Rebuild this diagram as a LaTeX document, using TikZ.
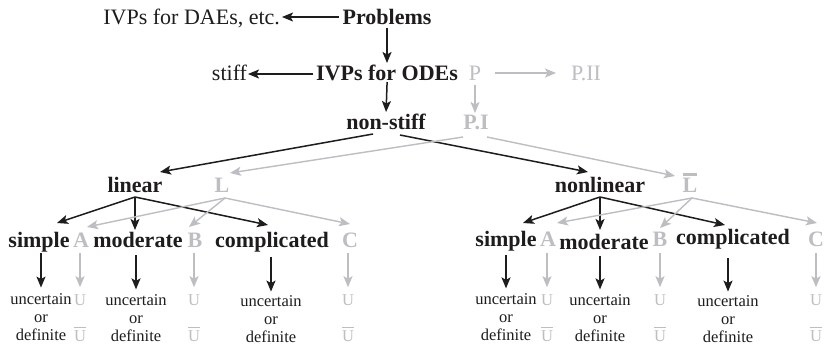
\documentclass[tikz,border=0pt]{standalone}
\usepackage{fontspec}
\setmainfont{Liberation Serif}
\usetikzlibrary{arrows.meta,calc}
\definecolor{gr}{RGB}{188,190,194}
\definecolor{ink}{RGB}{30,28,28}
\newcommand\ovbar[3]{\leavevmode\vbox{\hrule height #1\kern#2\hbox{#3}}}
\begin{document}
\begin{tikzpicture}[x=1pt,y=-1pt,
  every node/.style={inner sep=0pt, outer sep=0pt, text=ink},
  big/.style={font=\fontsize{22}{26}\selectfont, text height=15pt, text depth=5pt, anchor=base},
  bigb/.style={big, font=\fontsize{22}{26}\selectfont\bfseries},
  gbig/.style={big, text=gr},
  gbigb/.style={bigb, text=gr},
  small/.style={font=\fontsize{16.5}{18}\selectfont, align=center, anchor=base},
  gsmall/.style={small, text=gr},
  blk/.style={draw=ink, line width=1.5pt, -{Stealth[length=11pt,width=9pt,inset=2.5pt]}},
  gry/.style={draw=gr, line width=1.4pt, -{Stealth[length=11pt,width=9pt,inset=2.5pt]}},
]
\useasboundingbox[fill=white] (0,0) rectangle (824,345);

% top
\node[bigb] (prob) at (387,25) {Problems};
\node[big, anchor=base east] (daes) at (280,25) {IVPs for DAEs, etc.};
\node[bigb] (ivp) at (387,80) {IVPs for ODEs};
\node[big, anchor=base east] (stiff) at (247,80) {stiff};
\node[gbig] (P) at (475,80) {P};
\node[gbig] (PII) at (586,80) {P.II};
\node[bigb] (nst) at (386,129) {non-stiff};
\node[gbigb] (PI) at (476,129) {P.I};
\node[bigb] (lin) at (135,192) {linear};
\node[gbigb] (L) at (222,192) {L};
\node[bigb] (nlin) at (600,192) {nonlinear};
\node[gbigb] (Lb) at (690,192) {\ovbar{2.5pt}{2pt}{L}};

% row 5 left
\node[bigb] (s1) at (39,247) {simple};
\node[gbigb] (a1) at (81,247) {A};
\node[bigb] (m1) at (138,247) {moderate};
\node[gbigb] (b1) at (195,247) {B};
\node[bigb] (c1) at (272,247) {complicated};
\node[gbigb] (cc1) at (350,247) {C};
% row 5 right
\node[bigb] (s2) at (506,246) {simple};
\node[gbigb] (a2) at (548,246) {A};
\node[bigb] (m2) at (604,249) {moderate};
\node[gbigb] (b2) at (660,246) {B};
\node[bigb] (c2) at (733,244) {complicated};
\node[gbigb] (cc2) at (816,246) {C};

% row 6 left (base anchor = baseline of last line)
\node[small] (u1) at (41,340) {uncertain\\or\\definite};
\node[gsmall] (g1) at (80,305) {U};
\node[gsmall] (gb1) at (80,341) {\ovbar{1.2pt}{2pt}{U}};
\node[small] (u2) at (136,341) {uncertain\\or\\definite};
\node[gsmall] (g2) at (194,305) {U};
\node[gsmall] (gb2) at (194,341) {\ovbar{1.2pt}{2pt}{U}};
\node[small] (u3) at (271,342) {uncertain\\or\\definite};
\node[gsmall] (g3) at (348,305) {U};
\node[gsmall] (gb3) at (348,341) {\ovbar{1.2pt}{2pt}{U}};
% row 6 right
\node[small] (u4) at (506,340) {uncertain\\or\\definite};
\node[gsmall] (g4) at (547,305) {U};
\node[gsmall] (gb4) at (547,341) {\ovbar{1.2pt}{2pt}{U}};
\node[small] (u5) at (600,341) {uncertain\\or\\definite};
\node[gsmall] (g5) at (660,305) {U};
\node[gsmall] (gb5) at (660,341) {\ovbar{1.2pt}{2pt}{U}};
\node[small] (u6) at (728,342) {uncertain\\or\\definite};
\node[gsmall] (g6) at (816,305) {U};
\node[gsmall] (gb6) at (816,341) {\ovbar{1.2pt}{2pt}{U}};

% top connectors
\draw[blk, shorten <=4pt, shorten >=2pt] ([yshift=3pt]prob.west) -- ([yshift=3pt]daes.east);
\draw[blk, shorten <=-2pt, shorten >=2pt] (prob.south) -- (ivp.north);
\draw[blk, shorten <=3pt, shorten >=1pt] ([yshift=1pt]ivp.west) -- ([yshift=1pt]stiff.east);
\draw[blk, shorten <=-3pt, shorten >=2pt] (ivp.south) -- (nst.north);
\draw[gry, shorten <=14pt, shorten >=15pt] ([yshift=2pt]P.east) -- ([yshift=2pt]PII.west);
\draw[gry, shorten >=1pt] (P.south) -- (P.south |- PI.north);

\draw[blk] ([shift={(-13,0)}]nst.south) -- ([shift={(25,-5)}]lin.north);
\draw[blk] ([shift={(14,1)}]nst.south) -- ([shift={(-12,-5)}]nlin.north);
\draw[gry] ([shift={(-13,3)}]PI.south) -- ([shift={(8,-4)}]L.north);
\draw[gry] ([shift={(11,3)}]PI.south) -- ([shift={(-15,-1)}]Lb.north);

% left fans
\draw[blk] (lin.south) -- ([shift={(18,-9)}]s1.north);
\draw[blk, shorten >=2pt] (lin.south) -- (lin.south |- m1.north);
\draw[blk] (lin.south) -- ([shift={(-4,-7)}]c1.north);
\draw[gry] ([shift={(3,1)}]L.south) -- ([shift={(6,-5)}]a1.north);
\draw[gry] ([shift={(3,1)}]L.south) -- ([shift={(-6,-5)}]b1.north);
\draw[gry] ([shift={(3,1)}]L.south) -- ([shift={(0,-8)}]cc1.north);

% right fans
\draw[blk] (nlin.south) -- ([shift={(17,-8)}]s2.north);
\draw[blk, shorten >=4pt] (nlin.south) -- (nlin.south |- m2.north);
\draw[blk] (nlin.south) -- ([shift={(-8,-4)}]c2.north);
\draw[gry] ([shift={(2,1)}]Lb.south) -- ([shift={(9,-8)}]a2.north);
\draw[gry] ([shift={(2,1)}]Lb.south) -- ([shift={(0,-3)}]b2.north);
\draw[gry] ([shift={(2,1)}]Lb.south) -- ([shift={(1,-8)}]cc2.north);

% down arrows left
\draw[blk, shorten <=1pt, shorten >=5.5pt] (u1.north |- s1.south) -- (u1.north);
\draw[gry, shorten <=1pt, shorten >=7pt] (g1.north |- a1.south) -- (g1.north);
\draw[blk, shorten <=3pt, shorten >=4.7pt] (u2.north |- m1.south) -- (u2.north);
\draw[gry, shorten <=1pt, shorten >=7pt] (g2.north |- b1.south) -- (g2.north);
\draw[blk, shorten <=5pt, shorten >=3.5pt] (u3.north |- c1.south) -- (u3.north);
\draw[gry, shorten <=1pt, shorten >=7pt] (g3.north |- cc1.south) -- (g3.north);
% down arrows right
\draw[blk, shorten <=4pt, shorten >=4.7pt] (u4.north |- s2.south) -- (u4.north);
\draw[gry, shorten <=2pt, shorten >=7pt] (g4.north |- a2.south) -- (g4.north);
\draw[blk, shorten <=2pt, shorten >=4.7pt] (u5.north |- m2.south) -- (u5.north);
\draw[gry, shorten <=2pt, shorten >=7pt] (g5.north |- b2.south) -- (g5.north);
\draw[blk, shorten <=9pt, shorten >=3.5pt] (u6.north |- c2.south) -- (u6.north);
\draw[gry, shorten <=2pt, shorten >=7pt] (g6.north |- cc2.south) -- (g6.north);
\end{tikzpicture}
\end{document}
